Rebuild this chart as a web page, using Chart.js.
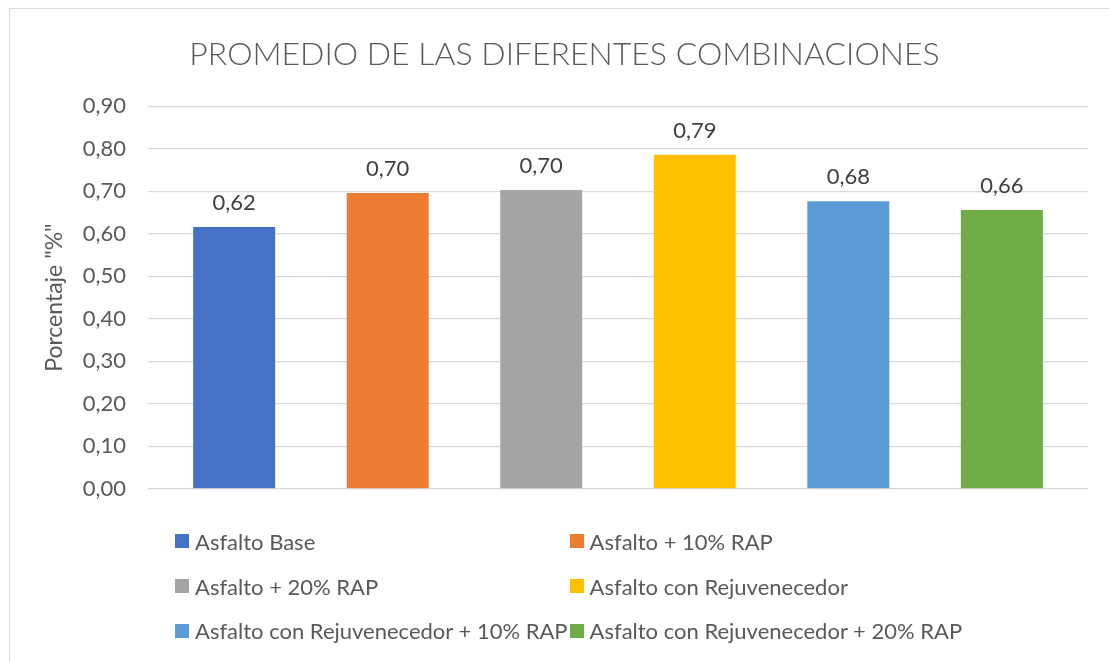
<!DOCTYPE html>
<html>
<head>
<meta charset="utf-8">
<script src="https://cdn.jsdelivr.net/npm/chart.js@4/dist/chart.umd.min.js"></script>
<style>
    html, body { margin: 0; padding: 0; background: #fff; overflow: hidden; }
    body { width: 1109px; height: 662px; position: relative; }
    #frame {
        position: absolute; left: 9px; top: 8px; width: 1200px; height: 700px;
        border: 1px solid #d9d9d9; box-sizing: border-box;
    }
    #wrap { position: absolute; left: 10px; top: 8px; width: 1109px; height: 516px; }
    #legend {
        position: absolute; left: 175px; top: 519px;
        display: grid; grid-template-columns: auto auto; column-gap: 2px;
        font-family: Lato, sans-serif; font-size: 22px; color: #595959;
    }
    .item { display: flex; align-items: center; height: 44.7px; white-space: nowrap; }
    .box { width: 14px; height: 14px; margin-right: 6px; flex: none; }
</style>
</head>
<body>
<div id="frame"></div>
<div id="wrap"><canvas id="promedioChart"></canvas></div>
<div id="legend"></div>
<script>
const combinaciones = [
    'Asfalto Base',
    'Asfalto + 10% RAP',
    'Asfalto + 20% RAP',
    'Asfalto con Rejuvenecedor',
    'Asfalto con Rejuvenecedor + 10% RAP',
    'Asfalto con Rejuvenecedor + 20% RAP'
];
const promedios = [0.616, 0.696, 0.703, 0.786, 0.677, 0.656];
const colores = ['#4472C4', '#ED7D31', '#A5A5A5', '#FFC000', '#5B9BD5', '#70AD47'];
const yMin = 0;
const yMax = 0.9;
const yStep = 0.1;

const coma = (v) => v.toFixed(2).replace('.', ',');

// etiquetas de valor encima de cada barra
const valueLabels = {
    id: 'valueLabels',
    afterDatasetsDraw: (chart) => {
        const ctx = chart.ctx;
        ctx.save();
        ctx.font = '22px Lato';
        ctx.fillStyle = '#404040';
        ctx.textAlign = 'center';
        ctx.textBaseline = 'alphabetic';
        chart.data.datasets.forEach((ds, i) => {
            const bar = chart.getDatasetMeta(i).data[0];
            ctx.fillText(coma(ds.data[0]), bar.x, bar.y - 17);
        });
        ctx.restore();
    }
};

const datasets = combinaciones.map((nombre, i) => ({
    label: nombre,
    data: [promedios[i]],
    backgroundColor: colores[i],
    categoryPercentage: 0.98,
    barPercentage: 0.534
}));

new Chart(document.getElementById('promedioChart'), {
    type: 'bar',
    data: { labels: [''], datasets: datasets },
    plugins: [valueLabels],
    options: {
        responsive: true,
        maintainAspectRatio: false,
        animation: false,
        layout: { padding: { left: 31, right: 31, top: 0, bottom: 19 } },
        plugins: {
            legend: { display: false },
            tooltip: { enabled: false },
            title: {
                display: true,
                text: 'PROMEDIO DE LAS DIFERENTES COMBINACIONES',
                color: '#595959',
                font: { family: 'Lato', size: 32, weight: '300', lineHeight: 1.2 },
                padding: { top: 27, bottom: 33 }
            }
        },
        scales: {
            x: { display: false },
            y: {
                min: yMin,
                max: yMax,
                afterFit: (scale) => { scale.width = 107; },
                border: { display: false },
                grid: { color: '#d9d9d9', lineWidth: 1.3, drawTicks: false },
                ticks: {
                    stepSize: yStep,
                    padding: 22,
                    color: '#595959',
                    font: { family: 'Lato', size: 22 },
                    callback: (v) => coma(v)
                },
                title: {
                    display: true,
                    text: 'Porcentaje "%"',
                    color: '#595959',
                    font: { family: 'Lato', size: 23, lineHeight: 1.2 },
                    padding: { top: 0, bottom: 0 }
                }
            }
        }
    }
});

const legend = document.getElementById('legend');
combinaciones.forEach((nombre, i) => {
    const item = document.createElement('div');
    item.className = 'item';
    const box = document.createElement('span');
    box.className = 'box';
    box.style.background = colores[i];
    item.appendChild(box);
    item.appendChild(document.createTextNode(nombre));
    legend.appendChild(item);
});
</script>
</body>
</html>
